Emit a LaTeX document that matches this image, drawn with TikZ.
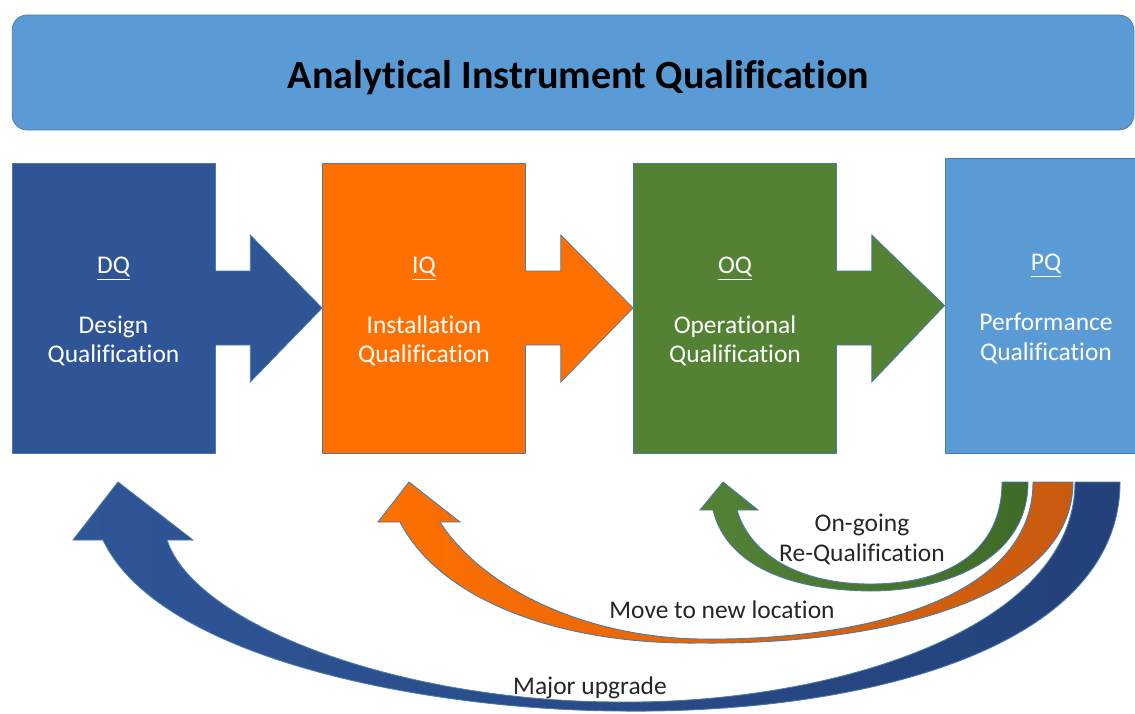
\documentclass[tikz,border=0pt]{standalone}
\usepackage{fontspec}
\setmainfont{Carlito}[Ligatures=NoCommon]
\usetikzlibrary{calc}

\definecolor{bannerblue}{HTML}{5B9BD5}
\definecolor{edgeblue}{HTML}{4A7BAA}
\definecolor{dqblue}{HTML}{2F5597}
\definecolor{iqorange}{HTML}{FF7000}
\definecolor{oqgreen}{HTML}{548235}
\definecolor{pqblue}{HTML}{5B9BD5}
\definecolor{darkgreen}{HTML}{3F6B28}
\definecolor{darkorange}{HTML}{C85A10}
\definecolor{darkblue}{HTML}{24417A}

% block arrow from one stage to the next
\newcommand{\stagearrow}[3]{%
    \fill[#3] ($(#1.east)+(-1,-37)$) -- ($(#1.east)+(35,-37)$) --
        ($(#1.east)+(35,-73)$) -- (#2.west) -- ($(#1.east)+(35,74)$) --
        ($(#1.east)+(35,37)$) -- ($(#1.east)+(-1,37)$) -- cycle;
    \draw[edgeblue,thin] ($(#1.east)+(0,-37)$) -- ($(#1.east)+(35,-37)$) --
        ($(#1.east)+(35,-73)$) -- (#2.west) -- ($(#1.east)+(35,74)$) --
        ($(#1.east)+(35,37)$) -- ($(#1.east)+(0,37)$);
}
% stage heading, with a little room above it
\newcommand{\stagehead}[1]{\raisebox{0pt}[\dimexpr\height+0.14cm\relax]{\underline{#1}}}

\tikzset{
    banner/.style={draw=edgeblue, thin, fill=bannerblue, rounded corners=0.3cm,
        minimum width=22.44cm, minimum height=2.3cm,
        font=\fontsize{22.8}{27}\selectfont\bfseries},
    stage/.style={draw=edgeblue, thin, text=white, align=center, inner sep=0pt,
        minimum width=4.06cm, minimum height=5.8cm,
        font=\fontsize{14.5}{17}\selectfont},
    loopnote/.style={text=black!85, align=center,
        font=\fontsize{14.5}{17}\selectfont},
    loopband/.style={draw=edgeblue, line width=0.5pt},
}

\begin{document}
\begin{tikzpicture}[x=0.02cm, y=-0.02cm]

\useasboundingbox (0,0) rectangle (1135,713);
\clip (0,0) rectangle (1135,713);

% title bar
\node[banner] (title) at (573,72.5)
    {\hspace*{0.22cm}\raisebox{0pt}[\dimexpr\height+0.2cm\relax]{Analytical Instrument Qualification}};

% the four stages
\node[stage, fill=dqblue] (dq) at (113.5,308)
    {\stagehead{DQ}\\[17pt] Design\\ Qualification};
\node[stage, fill=iqorange] (iq) at (424,308)
    {\stagehead{IQ}\\[17pt] Installation\\ Qualification};
\node[stage, fill=oqgreen] (oq) at (735,308)
    {\stagehead{OQ}\\[17pt] Operational\\ Qualification};
\node[stage, fill=pqblue, minimum width=4.04cm, minimum height=5.9cm] (pq) at (1046,305.5)
    {\stagehead{PQ}\\[17pt] Performance\\ Qualification};

\stagearrow{dq}{iq}{dqblue}
\stagearrow{iq}{oq}{iqorange}
\stagearrow{oq}{pq}{oqgreen}

% loops back from PQ
\path[loopband, left color=dqblue, right color=darkblue]
    (118,482) -- (193,540) -- (167,540)
    .. controls (195,625) and (400,702) .. (620,702)
    .. controls (830,704) and (1075,630) .. (1075,482)
    -- (1120,482)
    .. controls (1120,650) and (860,714) .. (620,711)
    .. controls (430,710) and (160,660) .. (103,540)
    -- (73,540) -- cycle;
\path[loopband, left color=iqorange, right color=darkorange]
    (409,482) -- (460,522) -- (440,522)
    .. controls (480,585) and (580,637) .. (700,639)
    .. controls (860,641) and (1033,600) .. (1033,482)
    -- (1073,482)
    .. controls (1073,600) and (880,645) .. (700,643)
    .. controls (560,645) and (440,600) .. (400,522)
    -- (378,522) -- cycle;
\path[loopband, left color=oqgreen, right color=darkgreen]
    (723,482) -- (758,510) -- (737,510)
    .. controls (750,555) and (800,584) .. (870,584)
    .. controls (950,584) and (1002,550) .. (1002,482)
    -- (1028,482)
    .. controls (1028,560) and (945,591) .. (870,591)
    .. controls (780,590) and (725,560) .. (713,510)
    -- (700,510) -- cycle;

\node[loopnote] (requal) at (862,539) {On-going\\ Re-Qualification};
\node[loopnote] (move) at (722,610) {Move to new location};
\node[loopnote] (upgrade) at (590,688) {Major upgrade};

\end{tikzpicture}
\end{document}
